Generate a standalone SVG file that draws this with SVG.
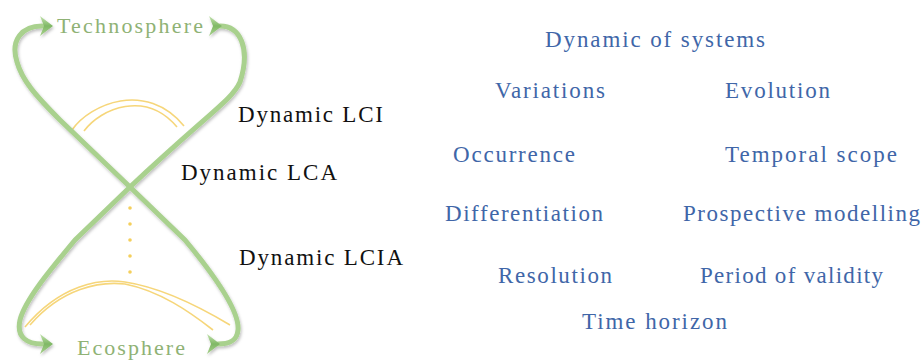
<svg xmlns="http://www.w3.org/2000/svg" width="923" height="360" viewBox="0 0 923 360">
  <defs>
    <filter id="sh" x="-20%" y="-20%" width="140%" height="140%">
      <feDropShadow dx="1" dy="2" stdDeviation="1.5" flood-color="#000" flood-opacity="0.25"/>
    </filter>
    <linearGradient id="ag" x1="0" y1="0" x2="0" y2="1">
      <stop offset="0" stop-color="#c5e3b0"/>
      <stop offset="0.5" stop-color="#7fb865"/>
      <stop offset="1" stop-color="#a9d18e"/>
    </linearGradient>
  </defs>
  <style>
    .g{fill:none;stroke:#a9d18e;stroke-width:5;stroke-linecap:round;stroke-linejoin:round}
    .y{fill:none;stroke:#f6d67a;stroke-width:1.6}
    .dot{fill:#f4cf5c}
    .arr{fill:url(#ag)}
    text{font-family:"Liberation Serif","Times New Roman","DejaVu Serif",serif}
    .k{font-size:23px;fill:#111}
    .b{font-size:23px;fill:#4066a8}
    .gt{font-size:22px;fill:#8fb275}
  </style>
  <rect width="923" height="360" fill="#fff"/>

  <g id="yellow">
    <path class="y" d="M72,130 C90,104 146,80 184,126"/>
    <path class="y" d="M84,131 C101,108 146,90 177,127"/>
    <path class="y" d="M25,327 C60,285 100,278 125,282 C165,288 205,310 230,325"/>
    <path class="y" d="M30,325 C62,288 100,281 125,284 C160,291 190,312 213,330"/>
    <circle class="dot" cx="130" cy="208" r="1.8"/>
    <circle class="dot" cx="130" cy="224" r="1.8"/>
    <circle class="dot" cx="130" cy="240" r="1.8"/>
    <circle class="dot" cx="130" cy="256" r="1.8"/>
    <circle class="dot" cx="130" cy="272" r="1.8"/>
  </g>

  <g id="connectors" filter="url(#sh)">
    <path class="g" d="M42,26 C22,26 10,40 17,62 C22,80 35,95 60,120 L130,187 L185,240 C210,270 240,310 238,330 C237,342 228,344 218,344"/>
    <path class="g" d="M220,26 C240,26 251,48 240,82 C232,100 210,112 130,187 L75,240 C50,270 25,300 20,320 C16,338 28,344 42,344"/>
    <polygon class="arr" points="40,16 53,26 40,36 44,26"/>
    <polygon class="arr" points="209,16 222,26 209,36 213,26"/>
    <polygon class="arr" points="40,334 53,344 40,354 44,344"/>
    <polygon class="arr" points="207,334 220,344 207,354 211,344"/>
  </g>

  <g id="technosphere"><text class="gt" x="57" y="33" textLength="146" lengthAdjust="spacing">Technosphere</text></g>
  <g id="ecosphere"><text class="gt" x="77" y="355" textLength="108" lengthAdjust="spacing">Ecosphere</text></g>

  <g id="dyn-lci"><text class="k" x="238" y="122" textLength="145" lengthAdjust="spacing">Dynamic LCI</text></g>
  <g id="dyn-lca"><text class="k" x="181" y="180" textLength="156" lengthAdjust="spacing">Dynamic LCA</text></g>
  <g id="dyn-lcia"><text class="k" x="239" y="265" textLength="164" lengthAdjust="spacing">Dynamic LCIA</text></g>

  <g id="dyn-systems"><text class="b" x="545" y="47" textLength="220" lengthAdjust="spacing">Dynamic of systems</text></g>
  <g id="variations"><text class="b" x="495" y="98" textLength="110" lengthAdjust="spacing">Variations</text></g>
  <g id="evolution"><text class="b" x="725" y="98" textLength="105" lengthAdjust="spacing">Evolution</text></g>
  <g id="occurrence"><text class="b" x="453" y="162" textLength="122" lengthAdjust="spacing">Occurrence</text></g>
  <g id="temporal-scope"><text class="b" x="725" y="162" textLength="172" lengthAdjust="spacing">Temporal scope</text></g>
  <g id="differentiation"><text class="b" x="445" y="221" textLength="158" lengthAdjust="spacing">Differentiation</text></g>
  <g id="prospective"><text class="b" x="683" y="221" textLength="237" lengthAdjust="spacing">Prospective modelling</text></g>
  <g id="resolution"><text class="b" x="498" y="283" textLength="114" lengthAdjust="spacing">Resolution</text></g>
  <g id="period"><text class="b" x="700" y="283" textLength="183" lengthAdjust="spacing">Period of validity</text></g>
  <g id="time-horizon"><text class="b" x="582" y="329" textLength="145" lengthAdjust="spacing">Time horizon</text></g>
</svg>
